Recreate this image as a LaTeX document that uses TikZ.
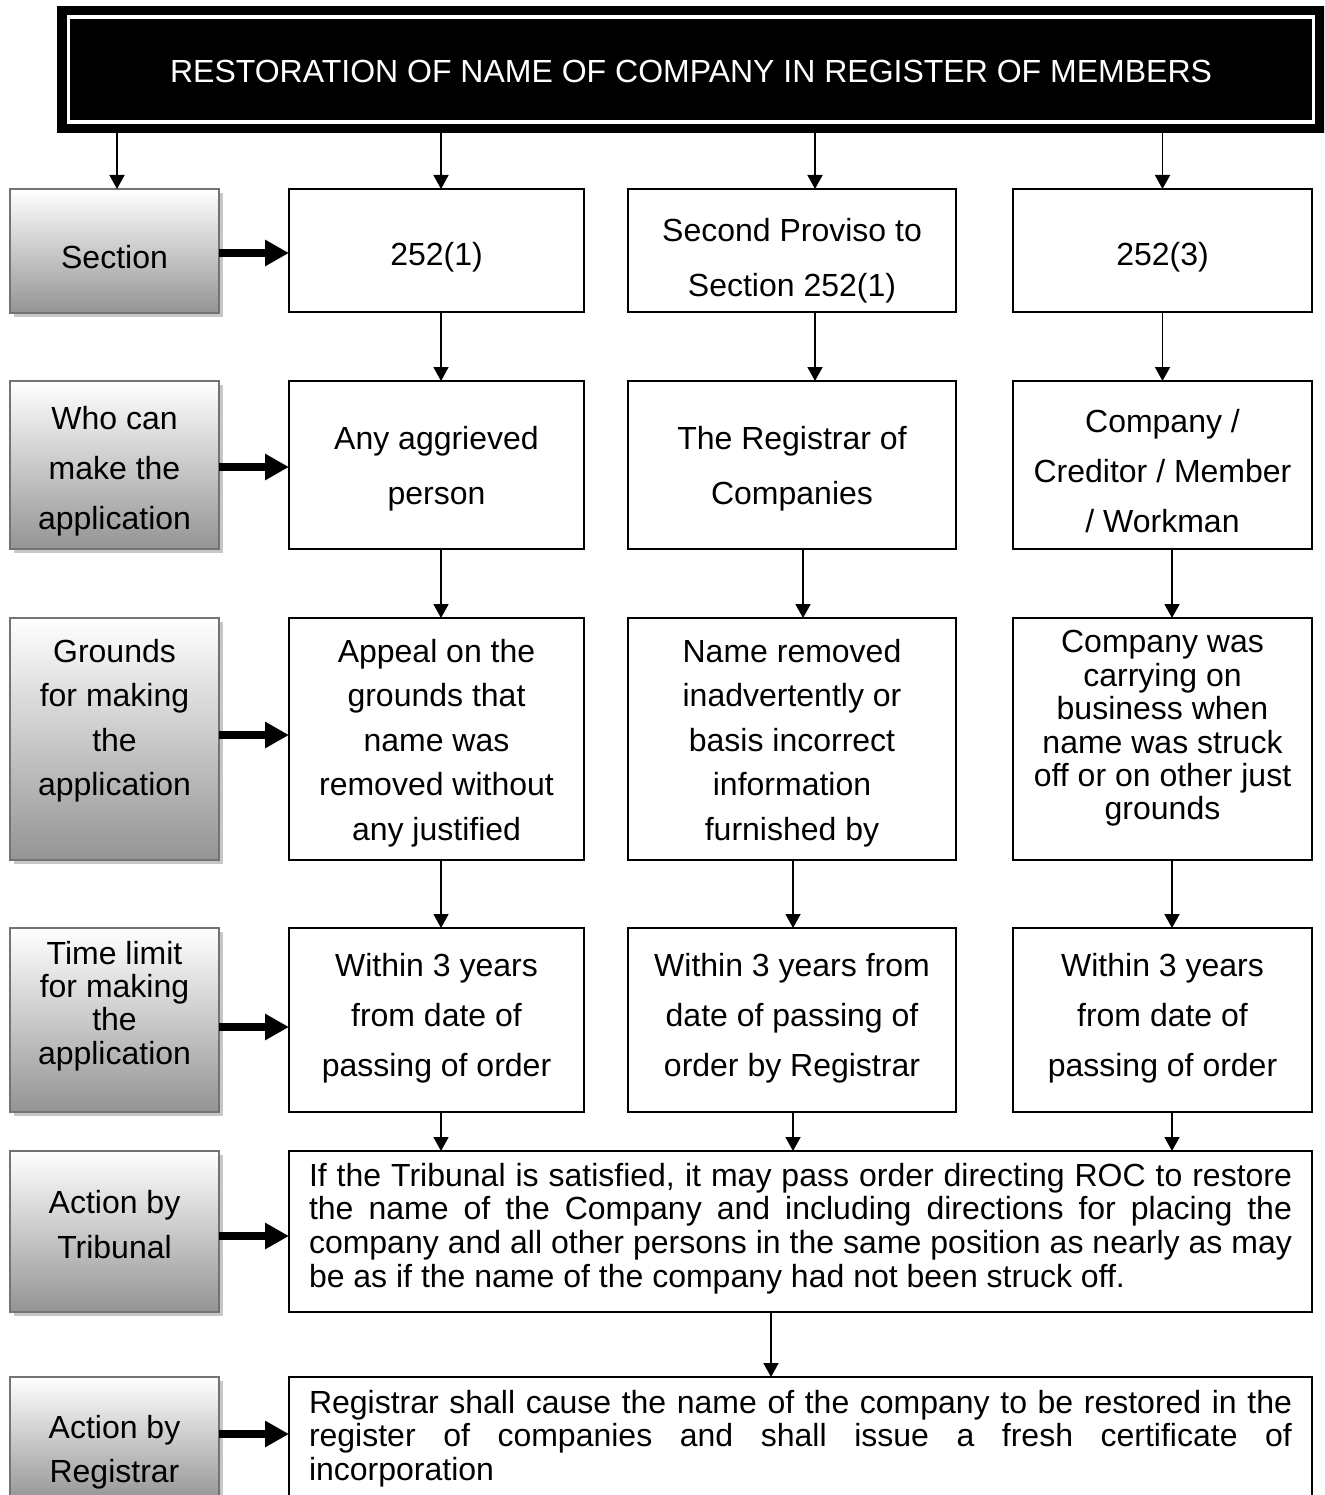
\documentclass[tikz,border=0pt]{standalone}
\usepackage{fontspec}
\setmainfont{Liberation Sans}
\usetikzlibrary{arrows.meta,shadows}
\begin{document}
\begin{tikzpicture}[x=1pt,y=-1pt,
  sidebox/.style={draw=black!55, line width=2pt, top color=white, bottom color=black!42,
    drop shadow={shadow xshift=4pt,shadow yshift=-4pt,fill=black!22,opacity=1},
    anchor=north west, inner sep=0pt, outer sep=0pt, minimum width=209pt},
  colbox/.style={draw=black, line width=1.6pt, fill=white, anchor=north west, inner sep=0pt, outer sep=0pt},
  lbl/.style={align=center, inner sep=0pt, font=\fontsize{32}{#1}\selectfont},
  lbl/.default=40,
  conn/.style={line width=1.8pt, -{Triangle[width=15pt,length=14pt]}},
  bigarrow/.style={line width=8pt, -{Triangle[width=25pt,length=24pt]}},
]
\useasboundingbox (0,0) rectangle (1324,1495);
\clip (0,0) rectangle (1324,1495);

% title
\node[fill=black, anchor=north west, minimum width=1270pt, minimum height=127pt, inner sep=0pt, outer sep=0pt] (title) at (57,6) {};
\node[text=white, inner sep=0pt, font=\fontsize{32}{36}\selectfont] (titlet) at (691,71) {RESTORATION OF NAME OF COMPANY IN REGISTER OF MEMBERS};
\draw[white, line width=3.5pt] ([xshift=11.7pt,yshift=-11pt]title.north west) rectangle ([xshift=-13.5pt,yshift=11pt]title.south east);

% side boxes
\node[sidebox, minimum height=124pt] (s1) at (10,189) {};
\node[sidebox, minimum height=168pt] (s2) at (10,381) {};
\node[sidebox, minimum height=242pt] (s3) at (10,618) {};
\node[sidebox, minimum height=184pt] (s4) at (10,928) {};
\node[sidebox, minimum height=161pt] (s5) at (10,1151) {};
\node[sidebox, minimum height=125pt] (s6) at (10,1377) {};

\node[lbl] (s1t) at (114.5,257) {Section};
\node[lbl=50] (s2t) at (114.5,471) {Who can\\make the\\application};
\node[lbl=44.5] (s3t) at (114.5,720.5) {Grounds\\for making\\the\\application};
\node[lbl=33.3] (s4t) at (114.5,1006) {Time limit\\for making\\the\\application};
\node[lbl=45] (s5t) at (114.5,1224.5) {Action by\\Tribunal};
\node[lbl=44] (s6t) at (114.5,1452) {Action by\\Registrar};

% column boxes
\node[colbox, minimum width=295pt, minimum height=123pt] (c11) at (289,189) {};
\node[colbox, minimum width=328pt, minimum height=123pt] (c12) at (628,189) {};
\node[colbox, minimum width=299pt, minimum height=123pt] (c13) at (1013,189) {};
\node[colbox, minimum width=295pt, minimum height=168pt] (c21) at (289,381) {};
\node[colbox, minimum width=328pt, minimum height=168pt] (c22) at (628,381) {};
\node[colbox, minimum width=299pt, minimum height=168pt] (c23) at (1013,381) {};
\node[colbox, minimum width=295pt, minimum height=242pt] (c31) at (289,618) {};
\node[colbox, minimum width=328pt, minimum height=242pt] (c32) at (628,618) {};
\node[colbox, minimum width=299pt, minimum height=242pt] (c33) at (1013,618) {};
\node[colbox, minimum width=295pt, minimum height=184pt] (c41) at (289,928) {};
\node[colbox, minimum width=328pt, minimum height=184pt] (c42) at (628,928) {};
\node[colbox, minimum width=299pt, minimum height=184pt] (c43) at (1013,928) {};
\node[colbox, minimum width=1023pt, minimum height=161pt] (b5) at (289,1151) {};
\node[colbox, minimum width=1023pt, minimum height=135pt] (b6) at (289,1377) {};

\node[lbl] (c11t) at (436.5,257) {252(1)};
\node[lbl=55] (c12t) at (792,260.5) {Second Proviso to\\Section 252(1)};
\node[lbl] (c13t) at (1162.5,257) {252(3)};
\node[lbl=55] (c21t) at (436.5,468.5) {Any aggrieved\\person};
\node[lbl=55] (c22t) at (792,468.5) {The Registrar of\\Companies};
\node[lbl=50] (c23t) at (1162.5,471) {Company /\\Creditor / Member\\/ Workman};
\node[lbl=44.5] (c31t) at (436.5,743) {Appeal on the\\grounds that\\name was\\removed without\\any justified};
\node[lbl=44.5] (c32t) at (792,743) {Name removed\\inadvertently or\\basis incorrect\\information\\furnished by};
\node[lbl=33.4] (c33t) at (1162.5,728.5) {Company was\\carrying on\\business when\\name was struck\\off or on other just\\grounds};
\node[lbl=50] (c41t) at (436.5,1018) {Within 3 years\\from date of\\passing of order};
\node[lbl=50] (c42t) at (792,1018) {Within 3 years from\\date of passing of\\order by Registrar};
\node[lbl=50] (c43t) at (1162.5,1018) {Within 3 years\\from date of\\passing of order};

\node[inner sep=0pt, align=left, font=\fontsize{32}{33.6}\selectfont] (b5t) at (800.5,1228.5)
 {\makebox[983pt][s]{If the Tribunal is satisfied, it may pass order directing ROC to restore}\\
  \makebox[983pt][s]{the name of the Company and including directions for placing the}\\
  \makebox[983pt][s]{company and all other persons in the same position as nearly as may}\\
  be as if the name of the company had not been struck off.};
\node[inner sep=0pt, align=left, font=\fontsize{32}{33.5}\selectfont] (b6t) at (800.5,1438.5)
 {\makebox[983pt][s]{Registrar shall cause the name of the company to be restored in the}\\
  \makebox[983pt][s]{register of companies and shall issue a fresh certificate of}\\
  incorporation};

% arrows from title
\draw[conn] ([xshift=2.5pt]s1.north |- title.south) -- ([xshift=2.5pt]s1.north);
\draw[conn] ([xshift=4.5pt]c11.north |- title.south) -- ([xshift=4.5pt]c11.north);
\draw[conn] ([xshift=23pt]c12.north |- title.south) -- ([xshift=23pt]c12.north);
\draw[conn] (c13.north |- title.south) -- (c13.north);

% column connectors
\draw[conn] ([xshift=4.5pt]c11.south) -- ([xshift=4.5pt]c21.north);
\draw[conn] ([xshift=23pt]c12.south) -- ([xshift=23pt]c22.north);
\draw[conn] (c13.south) -- (c23.north);
\draw[conn] ([xshift=4.5pt]c21.south) -- ([xshift=4.5pt]c31.north);
\draw[conn] ([xshift=11pt]c22.south) -- ([xshift=11pt]c32.north);
\draw[conn] ([xshift=9.5pt]c23.south) -- ([xshift=9.5pt]c33.north);
\draw[conn] ([xshift=4.5pt]c31.south) -- ([xshift=4.5pt]c41.north);
\draw[conn] ([xshift=1pt]c32.south) -- ([xshift=1pt]c42.north);
\draw[conn] ([xshift=9.5pt]c33.south) -- ([xshift=9.5pt]c43.north);
\draw[conn] ([xshift=4.5pt]c41.south) -- ([xshift=4.5pt]c41.south |- b5.north);
\draw[conn] ([xshift=1pt]c42.south) -- ([xshift=1pt]c42.south |- b5.north);
\draw[conn] ([xshift=9.5pt]c43.south) -- ([xshift=9.5pt]c43.south |- b5.north);
\draw[conn] ([xshift=-29.5pt]b5.south) -- ([xshift=-29.5pt]b6.north);

% thick arrows
\draw[bigarrow] ([yshift=-2pt]s1.east) -- ([yshift=-2pt]s1.east -| c11.west);
\draw[bigarrow] ([yshift=-2pt]s2.east) -- ([yshift=-2pt]s2.east -| c21.west);
\draw[bigarrow] ([yshift=4pt]s3.east) -- ([yshift=4pt]s3.east -| c31.west);
\draw[bigarrow] ([yshift=-7pt]s4.east) -- ([yshift=-7pt]s4.east -| c41.west);
\draw[bigarrow] ([yshift=-4.5pt]s5.east) -- ([yshift=-4.5pt]s5.east -| b5.west);
\draw[bigarrow] ([yshift=5.5pt]s6.east) -- ([yshift=5.5pt]s6.east -| b6.west);
\end{tikzpicture}
\end{document}
